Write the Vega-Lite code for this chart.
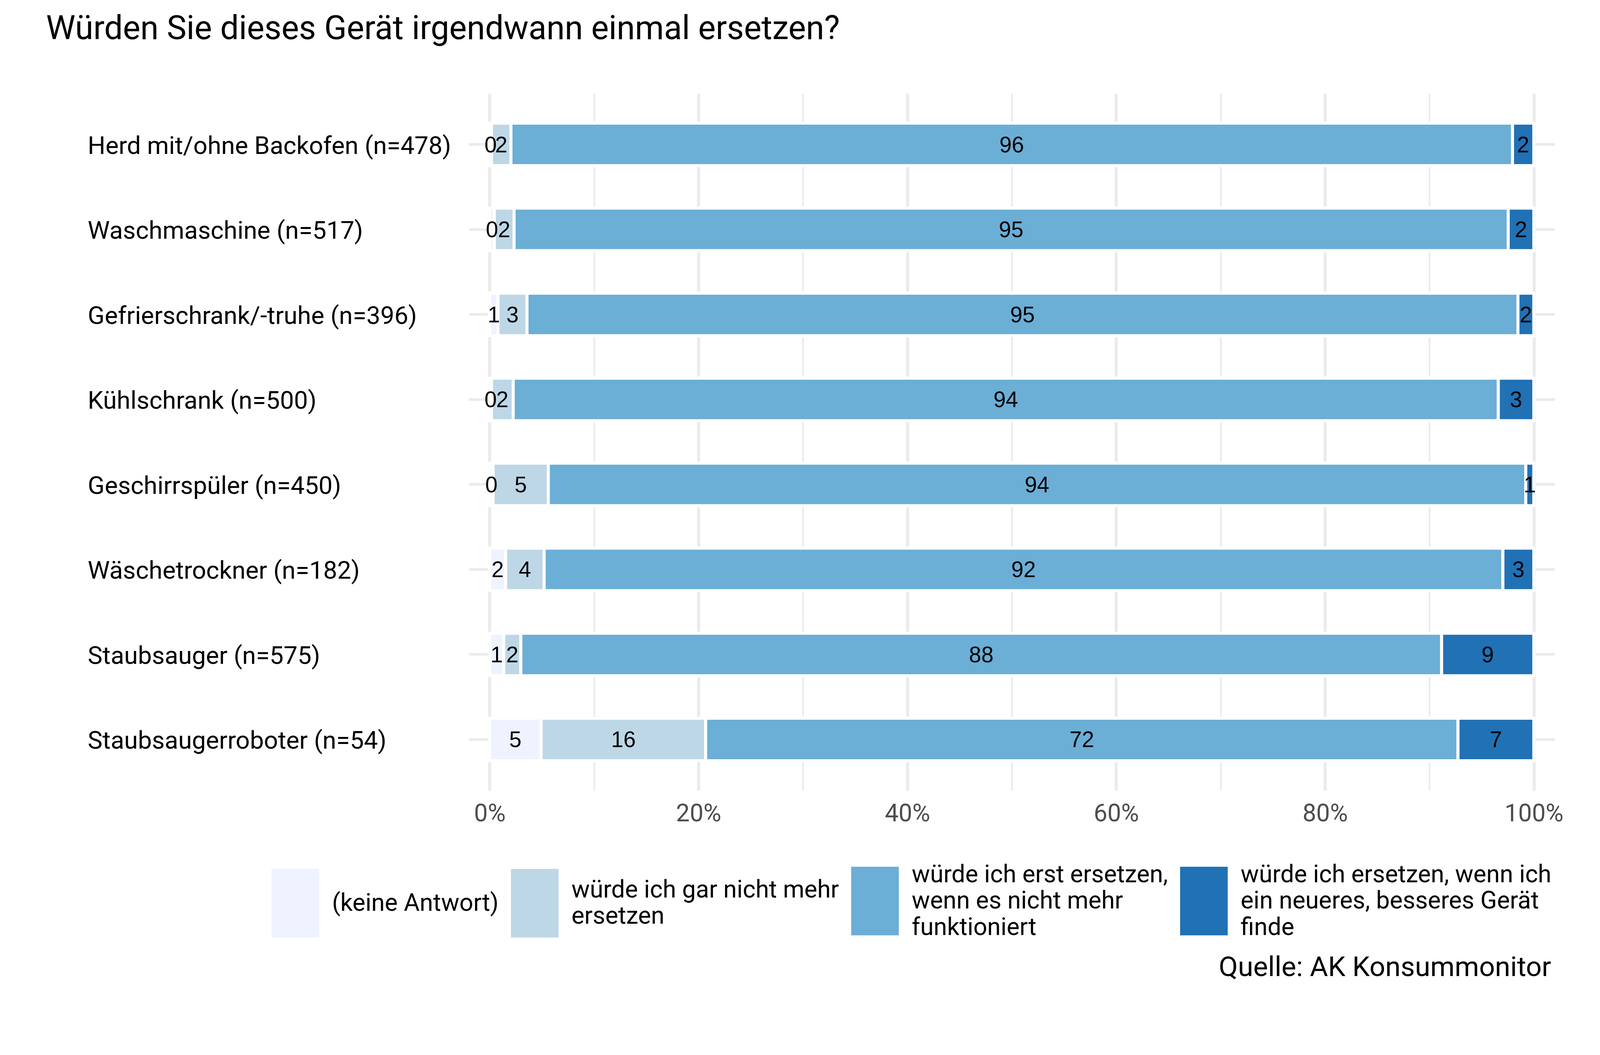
{
  "$schema": "https://vega.github.io/schema/vega-lite/v6.json",
  "width": 2780,
  "height": 1784,
  "autosize": {"type": "none"},
  "padding": {"left": 1200, "top": 239, "right": 220, "bottom": 677},
  "background": "white",
  "title": {
    "text": "Würden Sie dieses Gerät irgendwann einmal ersetzen?",
    "anchor": "start",
    "frame": "group",
    "dx": -1082,
    "offset": 54,
    "baseline": "alphabetic",
    "fontSize": 84.6,
    "font": "Roboto",
    "fontWeight": "normal",
    "color": "black"
  },
  "config": {
    "view": {"stroke": null},
    "font": "Roboto",
    "style": {"guide-label": {"lineHeight": 67.5}}
  },
  "data": {
    "values": [
      {"item": "Herd mit/ohne Backofen (n=478)", "cat": "(keine Antwort)", "k": 1, "v": 0.18},
      {"item": "Herd mit/ohne Backofen (n=478)", "cat": "würde ich gar nicht mehr ersetzen", "k": 2, "v": 1.86},
      {"item": "Herd mit/ohne Backofen (n=478)", "cat": "würde ich erst ersetzen, wenn es nicht mehr funktioniert", "k": 3, "v": 95.92},
      {"item": "Herd mit/ohne Backofen (n=478)", "cat": "würde ich ersetzen, wenn ich ein neueres, besseres Gerät finde", "k": 4, "v": 2.04},
      {"item": "Waschmaschine (n=517)", "cat": "(keine Antwort)", "k": 1, "v": 0.45},
      {"item": "Waschmaschine (n=517)", "cat": "würde ich gar nicht mehr ersetzen", "k": 2, "v": 1.89},
      {"item": "Waschmaschine (n=517)", "cat": "würde ich erst ersetzen, wenn es nicht mehr funktioniert", "k": 3, "v": 95.21},
      {"item": "Waschmaschine (n=517)", "cat": "würde ich ersetzen, wenn ich ein neueres, besseres Gerät finde", "k": 4, "v": 2.45},
      {"item": "Gefrierschrank/-truhe (n=396)", "cat": "(keine Antwort)", "k": 1, "v": 0.8},
      {"item": "Gefrierschrank/-truhe (n=396)", "cat": "würde ich gar nicht mehr ersetzen", "k": 2, "v": 2.78},
      {"item": "Gefrierschrank/-truhe (n=396)", "cat": "würde ich erst ersetzen, wenn es nicht mehr funktioniert", "k": 3, "v": 94.9},
      {"item": "Gefrierschrank/-truhe (n=396)", "cat": "würde ich ersetzen, wenn ich ein neueres, besseres Gerät finde", "k": 4, "v": 1.52},
      {"item": "Kühlschrank (n=500)", "cat": "(keine Antwort)", "k": 1, "v": 0.18},
      {"item": "Kühlschrank (n=500)", "cat": "würde ich gar nicht mehr ersetzen", "k": 2, "v": 2.08},
      {"item": "Kühlschrank (n=500)", "cat": "würde ich erst ersetzen, wenn es nicht mehr funktioniert", "k": 3, "v": 94.34},
      {"item": "Kühlschrank (n=500)", "cat": "würde ich ersetzen, wenn ich ein neueres, besseres Gerät finde", "k": 4, "v": 3.4},
      {"item": "Geschirrspüler (n=450)", "cat": "(keine Antwort)", "k": 1, "v": 0.33},
      {"item": "Geschirrspüler (n=450)", "cat": "würde ich gar nicht mehr ersetzen", "k": 2, "v": 5.29},
      {"item": "Geschirrspüler (n=450)", "cat": "würde ich erst ersetzen, wenn es nicht mehr funktioniert", "k": 3, "v": 93.61},
      {"item": "Geschirrspüler (n=450)", "cat": "würde ich ersetzen, wenn ich ein neueres, besseres Gerät finde", "k": 4, "v": 0.77},
      {"item": "Wäschetrockner (n=182)", "cat": "(keine Antwort)", "k": 1, "v": 1.53},
      {"item": "Wäschetrockner (n=182)", "cat": "würde ich gar nicht mehr ersetzen", "k": 2, "v": 3.69},
      {"item": "Wäschetrockner (n=182)", "cat": "würde ich erst ersetzen, wenn es nicht mehr funktioniert", "k": 3, "v": 91.82},
      {"item": "Wäschetrockner (n=182)", "cat": "würde ich ersetzen, wenn ich ein neueres, besseres Gerät finde", "k": 4, "v": 2.96},
      {"item": "Staubsauger (n=575)", "cat": "(keine Antwort)", "k": 1, "v": 1.35},
      {"item": "Staubsauger (n=575)", "cat": "würde ich gar nicht mehr ersetzen", "k": 2, "v": 1.64},
      {"item": "Staubsauger (n=575)", "cat": "würde ich erst ersetzen, wenn es nicht mehr funktioniert", "k": 3, "v": 88.18},
      {"item": "Staubsauger (n=575)", "cat": "würde ich ersetzen, wenn ich ein neueres, besseres Gerät finde", "k": 4, "v": 8.83},
      {"item": "Staubsaugerroboter (n=54)", "cat": "(keine Antwort)", "k": 1, "v": 4.93},
      {"item": "Staubsaugerroboter (n=54)", "cat": "würde ich gar nicht mehr ersetzen", "k": 2, "v": 15.76},
      {"item": "Staubsaugerroboter (n=54)", "cat": "würde ich erst ersetzen, wenn es nicht mehr funktioniert", "k": 3, "v": 72.05},
      {"item": "Staubsaugerroboter (n=54)", "cat": "würde ich ersetzen, wenn ich ein neueres, besseres Gerät finde", "k": 4, "v": 7.26}
    ]
  },
  "encoding": {
    "y": {
      "field": "item",
      "type": "nominal",
      "sort": null,
      "scale": {"paddingInner": 0.5, "paddingOuter": 0.35},
      "axis": {
        "title": null,
        "domain": false,
        "ticks": false,
        "labelAlign": "left",
        "labelBaseline": "middle",
        "labelPadding": 976,
        "labelOffset": 5,
        "labelLimit": 0,
        "labelFontSize": 63.7,
        "labelFont": "Roboto",
        "labelColor": "black",
        "grid": true,
        "gridColor": "#ebebeb",
        "gridWidth": 6.8
      }
    }
  },
  "layer": [
    {
      "mark": {"type": "bar", "stroke": "white", "strokeWidth": 7.8},
      "encoding": {
        "x": {
          "field": "v",
          "type": "quantitative",
          "stack": "zero",
          "scale": {"domain": [-2, 102], "nice": false, "zero": false},
          "axis": {
            "title": null,
            "domain": false,
            "ticks": false,
            "values": [0, 10, 20, 30, 40, 50, 60, 70, 80, 90, 100],
            "labelExpr": "datum.value % 20 == 0 ? datum.value + '%' : ''",
            "labelOverlap": false,
            "labelFlush": false,
            "labelFontSize": 62.5,
            "labelFont": "Roboto",
            "labelColor": "#4d4d4d",
            "labelPadding": 29,
            "grid": true,
            "gridColor": "#ebebeb",
            "gridWidth": {"condition": {"test": "datum.value % 20 == 0", "value": 7.8}, "value": 4.4}
          }
        },
        "color": {
          "field": "cat",
          "type": "nominal",
          "sort": null,
          "scale": {
            "domain": [
              "(keine Antwort)",
              "würde ich gar nicht mehr ersetzen",
              "würde ich erst ersetzen, wenn es nicht mehr funktioniert",
              "würde ich ersetzen, wenn ich ein neueres, besseres Gerät finde"
            ],
            "range": ["#eff3ff", "#bdd7e7", "#6baed6", "#2171b5"]
          },
          "legend": {
            "orient": "none",
            "legendX": -505,
            "legendY": 2006,
            "direction": "horizontal",
            "columns": 4,
            "padding": 0,
            "title": "Quelle: AK Konsummonitor",
            "titleOrient": "bottom",
            "titleAnchor": "end",
            "titleFontSize": 71.2,
            "titleFont": "Roboto",
            "titleFontWeight": "normal",
            "titleColor": "black",
            "titlePadding": 37,
            "titleLimit": 0,
            "labelFontSize": 62.4,
            "labelFont": "Roboto",
            "labelColor": "black",
            "labelBaseline": "middle",
            "labelOffset": 33,
            "labelLimit": 0,
            "columnPadding": 31,
            "symbolType": "M-1,-1.44H1V1.44H-1Z",
            "symbolSize": 14860,
            "symbolStrokeWidth": 0,
            "symbolOpacity": 1,
            "labelExpr": "datum.label == 'würde ich gar nicht mehr ersetzen' ? ['würde ich gar nicht mehr', 'ersetzen'] : datum.label == 'würde ich erst ersetzen, wenn es nicht mehr funktioniert' ? ['würde ich erst ersetzen,', 'wenn es nicht mehr', 'funktioniert'] : datum.label == 'würde ich ersetzen, wenn ich ein neueres, besseres Gerät finde' ? ['würde ich ersetzen, wenn ich', 'ein neueres, besseres Gerät', 'finde'] : datum.label",
            "encoding": {
              "labels": {
                "dy": {"value": {"expr": "datum.label == '(keine Antwort)' ? 0 : datum.label == 'würde ich gar nicht mehr ersetzen' ? -33.75 : -67.5"}}
              }
            }
          }
        },
        "order": {"field": "k"}
      }
    },
    {
      "mark": {"type": "text", "font": "Liberation Sans", "fontSize": 56.6, "color": "black", "baseline": "middle", "align": "center", "dy": 3},
      "encoding": {
        "x": {"field": "v", "type": "quantitative", "stack": "zero", "bandPosition": 0.5},
        "detail": {"field": "cat"},
        "order": {"field": "k"},
        "text": {"field": "v", "type": "quantitative", "format": ".0f"}
      }
    }
  ]
}
